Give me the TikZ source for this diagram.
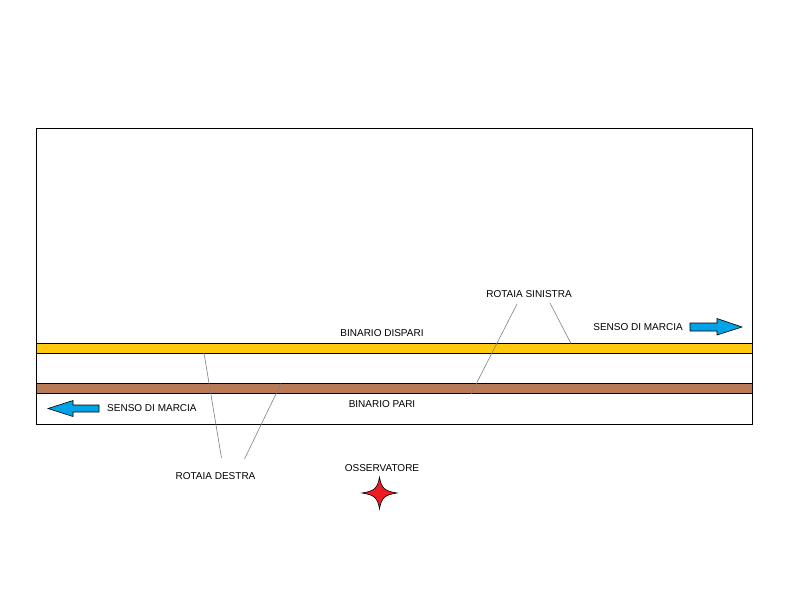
\documentclass[tikz,border=0pt]{standalone}
\usepackage{fontspec}
\setmainfont{Liberation Sans}
\definecolor{railyellow}{HTML}{FFC90E}
\definecolor{railbrown}{HTML}{B97A57}
\definecolor{arrowblue}{HTML}{00A2E8}
\definecolor{starred}{HTML}{ED1C24}
\definecolor{leader}{HTML}{808080}
\begin{document}
\begin{tikzpicture}[x=1pt,y=-1pt,
  lbl/.style={font=\fontsize{10}{12}\selectfont, inner sep=0pt, text=black},
  rail/.style={draw=black, line width=1pt},
  leaderline/.style={draw=leader, line width=0.6pt},
  dirarrow/.style={fill=arrowblue, draw=black, line width=0.6pt, line join=miter}]
\useasboundingbox (0,0) rectangle (800,600);
% outer frame
\draw[line width=1pt] (36,128) rectangle (752,424.5);
% rails
\draw[rail, fill=railyellow] (36,343.5) rectangle (752,353);
\draw[rail, fill=railbrown] (36,383.5) rectangle (752,393);
% labels
\node[lbl] (dispari) at (382,333) {BINARIO DISPARI};
\node[lbl] (pari) at (382,404) {BINARIO PARI};
\node[lbl, anchor=west] (sensoL) at (107,408.5) {SENSO DI MARCIA};
\node[lbl, anchor=east] (sensoR) at (683,327) {SENSO DI MARCIA};
\node[lbl] (sinistra) at (529,294.5) {ROTAIA SINISTRA};
\node[lbl] (destra) at (215.5,476) {ROTAIA DESTRA};
\node[lbl] (oss) at (382,468) {OSSERVATORE};
% leader line end points
\coordinate (d1a) at (204,353);
\coordinate (d1b) at (221.5,458);
\coordinate (d2a) at (281,383.5);
\coordinate (d2b) at (244.5,459);
\coordinate (s1a) at (517,304);
\coordinate (s1b) at (471,394);
\coordinate (s2a) at (550,303);
\coordinate (s2b) at (571,343.5);
\draw[leaderline] (d1a) -- (d1b);
\draw[leaderline] (d2a) -- (d2b);
\draw[leaderline] (s1a) -- (s1b);
\draw[leaderline] (s2a) -- (s2b);
% direction arrows
\draw[dirarrow] (48,408.5) -- (73,400.5) -- (73,405) -- (99,405) -- (99,412) -- (73,412) -- (73,416.5) -- cycle;
\draw[dirarrow] (742,327) -- (717,318.5) -- (717,323) -- (690,323) -- (690,331) -- (717,331) -- (717,335) -- cycle;
% observer star
\coordinate (star) at (379.5,493);
\draw[fill=starred, draw=black, line width=0.6pt] (379.5,477)
  .. controls (381.5,488) and (384,491) .. (397,493)
  .. controls (384,495) and (381.5,498) .. (379.5,509)
  .. controls (377.5,498) and (375,495) .. (362,493)
  .. controls (375,491) and (377.5,488) .. cycle;
\end{tikzpicture}
\end{document}
